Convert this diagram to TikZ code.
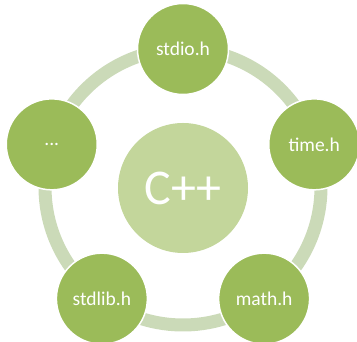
\documentclass[tikz,border=0pt]{standalone}
\usepackage{fontspec}
\setmainfont{Carlito}
\usetikzlibrary{calc}
\definecolor{ringc}{HTML}{CBDAB8}
\definecolor{outerc}{HTML}{9BBB59}
\definecolor{innerc}{HTML}{C3D69B}
\begin{document}
\begin{tikzpicture}[x=1pt,y=1pt,
  sat/.style={circle,fill=outerc,draw=white,line width=1.5pt,minimum size=91pt,inner sep=0pt,text=white,font=\fontsize{19.5}{22}\selectfont},
  hub/.style={circle,fill=innerc,minimum size=130pt,inner sep=0pt,text=white,font=\fontsize{50}{54}\selectfont}]
\useasboundingbox (0,0) rectangle (357,342);
\coordinate (c) at (183,155);
\draw[ringc,line width=13pt] (c) circle (138);
\node[hub] (cpp) at (183,154) {C++};
\node[sat] (stdio) at ($(c)+(90:138)$) {stdio.h};
\node[sat] (time) at ($(c)+(18:138)$) {time.h};
\node[sat] (math) at ($(c)+(-54:138)$) {math.h};
\node[sat] (stdlib) at ($(c)+(-126:138)$) {stdlib.h};
\node[sat] (etc) at ($(c)+(162:138)$) {...};
\end{tikzpicture}
\end{document}
